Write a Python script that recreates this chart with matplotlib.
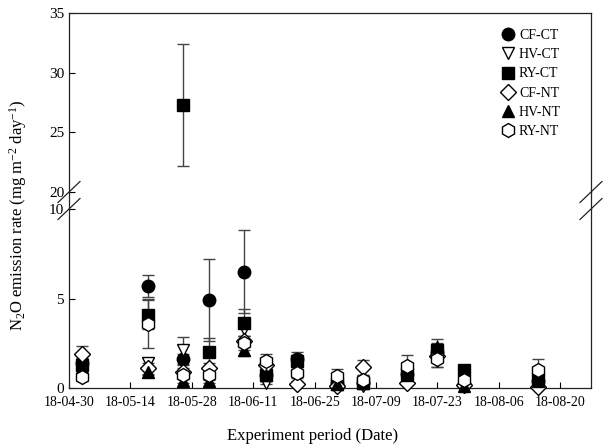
import numpy as np
import matplotlib
matplotlib.use("Agg")
import matplotlib.pyplot as plt
import matplotlib.dates as mdates
from matplotlib.lines import Line2D

plt.rcParams["font.family"] = ["Liberation Serif", "DejaVu Serif"]
plt.rcParams["mathtext.fontset"] = "custom"
plt.rcParams["mathtext.rm"] = "Liberation Serif"
plt.rcParams["mathtext.it"] = "Liberation Serif:italic"

# Messtermine und Werte (mg m-2 day-1), aus der Abbildung geschaetzt
dates = ["2018-05-03", "2018-05-18", "2018-05-26", "2018-06-01", "2018-06-09",
         "2018-06-14", "2018-06-21", "2018-06-30", "2018-07-06", "2018-07-16",
         "2018-07-23", "2018-07-29", "2018-08-15"]

cf_ct = [1.4, 5.7, 1.6, 4.9, 6.5, 0.7, 1.6, 0.3, 0.3, 0.8, 2.0, 0.2, 0.4]
cf_ct_err = [0.3, 0.6, 0.3, 2.3, 2.3, 0.2, 0.4, 0.1, 0.1, 0.2, 0.4, 0.1, 0.1]
hv_ct = [0.9, 1.4, 2.1, 0.8, 3.3, 0.3, 1.2, 0.1, 0.1, 0.3, 1.5, 0.1, 0.1]
hv_ct_err = [0.2, 0.3, 0.75, 0.3, 0.6, 0.1, 0.2, 0.05, 0.05, 0.1, 0.3, 0.05, 0.05]
ry_ct = [1.3, 4.1, 27.3, 2.0, 3.65, 0.75, 1.5, 0.2, 0.3, 0.8, 2.1, 1.0, 0.5]
ry_ct_err = [0.3, 0.8, 5.1, 0.8, 0.75, 0.2, 0.3, 0.1, 0.1, 0.2, 0.4, 0.2, 0.2]
cf_nt = [1.9, 1.1, 0.9, 1.1, 2.6, 1.3, 0.25, 0.1, 1.15, 0.3, 1.8, 0.15, 0.05]
cf_nt_err = [0.45, 0.3, 0.2, 0.3, 0.3, 0.3, 0.1, 0.05, 0.4, 0.1, 0.3, 0.05, 0.05]
hv_nt = [1.1, 0.9, 0.4, 0.4, 2.1, 0.7, 1.1, 0.2, 0.3, 0.7, 2.3, 0.1, 0.4]
hv_nt_err = [0.2, 0.2, 0.1, 0.1, 0.3, 0.2, 0.2, 0.05, 0.1, 0.2, 0.45, 0.05, 0.1]
ry_nt = [0.6, 3.6, 0.7, 0.75, 2.5, 1.5, 0.85, 0.65, 0.45, 1.25, 1.6, 0.45, 1.0]
ry_nt_err = [0.2, 1.35, 0.2, 0.3, 0.4, 0.4, 0.3, 0.4, 0.3, 0.6, 0.4, 0.2, 0.6]

series = [
    ("CF-CT", cf_ct, cf_ct_err, "o", "black", 9),
    ("HV-CT", hv_ct, hv_ct_err, "v", "white", 9),
    ("RY-CT", ry_ct, ry_ct_err, "s", "black", 8),
    ("CF-NT", cf_nt, cf_nt_err, "D", "white", 8),
    ("HV-NT", hv_nt, hv_nt_err, "^", "black", 9),
    ("RY-NT", ry_nt, ry_nt_err, "h", "white", 10),
]

x = np.array(dates, dtype="datetime64[D]")

fig = plt.figure(figsize=(6.15, 4.48), dpi=100)
W, H = 615, 448
left, right = 69 / W, 591 / W
ax_top = fig.add_axes([left, 1 - 192 / H, right - left, 179 / H])
ax_bot = fig.add_axes([left, 1 - 388 / H, right - left, 179 / H])

handles = []
for ax, lo, hi in [(ax_top, 20, 35), (ax_bot, 0, 10)]:
    for name, vals, err, mk, fc, ms in series:
        v = np.array(vals, dtype=float)
        e = np.array(err, dtype=float)
        mask = (v >= lo) & (v <= hi)
        v = np.where(mask, v, np.nan)
        ax.errorbar(x, v, yerr=e, fmt="none", ecolor="#444444", elinewidth=1,
                    capsize=4, capthick=1, zorder=2)
        ln, = ax.plot(x, v, linestyle="none", marker=mk, markerfacecolor=fc,
                      markeredgecolor="black", markeredgewidth=1, markersize=ms,
                      clip_on=False, zorder=3, label=name)
        if ax is ax_bot:
            handles.append(ln)
    ax.set_ylim(lo, hi)
    ax.set_xlim(np.datetime64("2018-04-30"), np.datetime64("2018-08-27"))
    ax.tick_params(direction="in", length=4, width=0.8)
    ax.tick_params(axis="y", labelsize=11)
    ax.tick_params(axis="x", labelsize=10)
    for s in ax.spines.values():
        s.set_linewidth(0.9)
        s.set_color("#222222")

ax_top.set_yticks([20, 25, 30, 35])
ax_top.spines["bottom"].set_visible(False)
ax_top.tick_params(axis="x", bottom=False, labelbottom=False)
ax_bot.set_yticks([0, 5, 10])
ax_bot.spines["top"].set_visible(False)

ticks = np.arange(np.datetime64("2018-04-30"), np.datetime64("2018-08-21"), 14)
ax_bot.set_xticks(ticks)
ax_bot.xaxis.set_major_formatter(mdates.DateFormatter("%y-%m-%d"))
ax_bot.tick_params(axis="x", pad=6)

# Achsenbruch
for xp in (69, 591):
    fig.add_artist(Line2D([xp / W, xp / W], [1 - 192 / H, 1 - 209 / H],
                          color="#222222", lw=0.9))
    for yp in (192, 209):
        fig.add_artist(Line2D([(xp - 11) / W, (xp + 11) / W],
                              [1 - (yp + 10.5) / H, 1 - (yp - 10.5) / H],
                              color="#222222", lw=0.9))

fig.legend(handles=handles, loc="upper left", bbox_to_anchor=(494 / W, 1 - 22 / H),
           frameon=False, fontsize=10, handlelength=1.0, handletextpad=0.3,
           labelspacing=0.45, borderpad=0)

fig.text(313 / W, 1 - 436 / H, "Experiment period (Date)", ha="center",
         va="center", fontsize=12)
fig.text(18 / W, 1 - 215 / H, "N$_2$O emission rate (mg m$^{-2}$ day$^{-1}$)",
         ha="center", va="center", rotation=90, fontsize=12)

fig.savefig("out.png", dpi=100)
